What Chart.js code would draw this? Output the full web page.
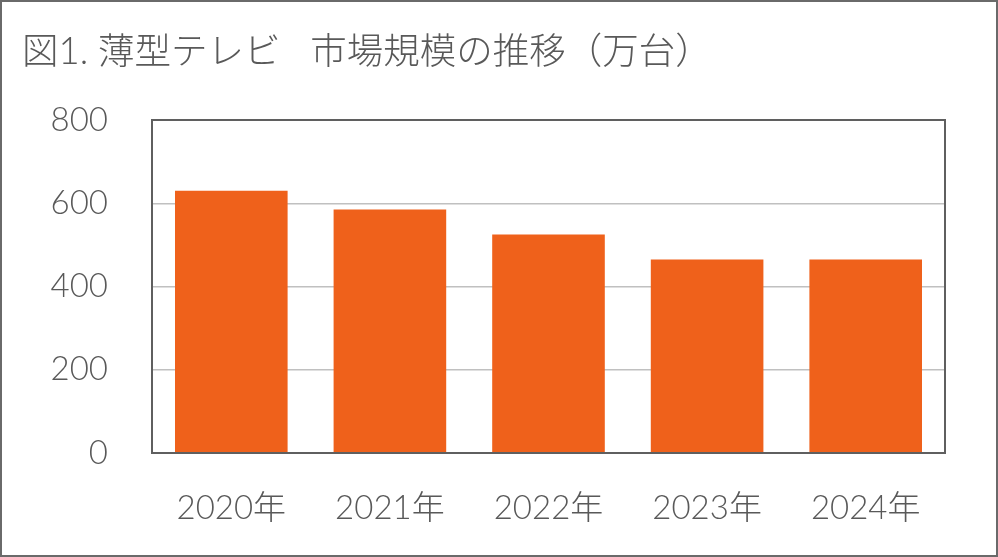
<!DOCTYPE html>
<html>
<head>
<meta charset="utf-8">
<script src="https://cdn.jsdelivr.net/npm/chart.js"></script>
<style>
  html, body { margin: 0; padding: 0; background: #fff; }
  #wrap { position: relative; width: 998px; height: 557px; }
</style>
</head>
<body>
<div id="wrap"><canvas id="tvChart" width="998" height="557"></canvas></div>
<script>
  // values
  var years = ['2020年', '2021年', '2022年', '2023年', '2024年'];
  var units = [630, 585, 525, 465, 465];
  var yTicks = [0, 200, 400, 600, 800];
  var chartTitle = '図1. 薄型テレビ   市場規模の推移（万台）';

  var textColor = '#595959';
  var fontFamily = "Lato, 'Noto Sans CJK JP', sans-serif";

  // frame round the plot area and round the whole picture
  var framePlugin = {
    id: 'frames',
    afterDraw: function(chart) {
      var ctx = chart.ctx;
      var a = chart.chartArea;
      ctx.save();
      ctx.strokeStyle = '#5f5f5f';
      ctx.lineWidth = 2;
      ctx.strokeRect(a.left, a.top, a.right - a.left, a.bottom - a.top);
      ctx.strokeStyle = '#6a6a6a';
      ctx.lineWidth = 2;
      ctx.strokeRect(1, 1, chart.width - 2, chart.height - 2);
      ctx.restore();
    }
  };

  Chart.defaults.font.family = fontFamily;
  Chart.defaults.color = textColor;

  new Chart(document.getElementById('tvChart').getContext('2d'), {
    type: 'bar',
    data: {
      labels: years,
      datasets: [{
        data: units,
        backgroundColor: '#ef611b',
        borderWidth: 0,
        barPercentage: 0.71,
        categoryPercentage: 1
      }]
    },
    options: {
      responsive: false,
      animation: false,
      devicePixelRatio: 1,
      layout: { padding: { left: 22, right: 53, top: 30, bottom: 0 } },
      plugins: {
        legend: { display: false },
        tooltip: { enabled: false },
        title: {
          display: true,
          text: chartTitle,
          align: 'start',
          color: textColor,
          font: { size: 36.5, weight: '300', lineHeight: 1.2 },
          padding: { top: 0, bottom: 46.2 }
        }
      },
      scales: {
        x: {
          grid: { display: false, drawTicks: false },
          border: { display: false },
          ticks: { color: textColor, padding: 36, font: { size: 33, weight: '300' } },
          afterFit: function(scale) { scale.height = 104; }
        },
        y: {
          min: 0,
          max: 800,
          afterBuildTicks: function(scale) {
            scale.ticks = yTicks.map(function(v) { return { value: v }; });
          },
          grid: { color: '#c0c0c0', lineWidth: 1.5, drawTicks: false },
          border: { display: false },
          ticks: { color: textColor, padding: 44, font: { size: 33, weight: '300' } },
          afterFit: function(scale) { scale.width = 130; }
        }
      }
    },
    plugins: [framePlugin]
  });
</script>
</body>
</html>
